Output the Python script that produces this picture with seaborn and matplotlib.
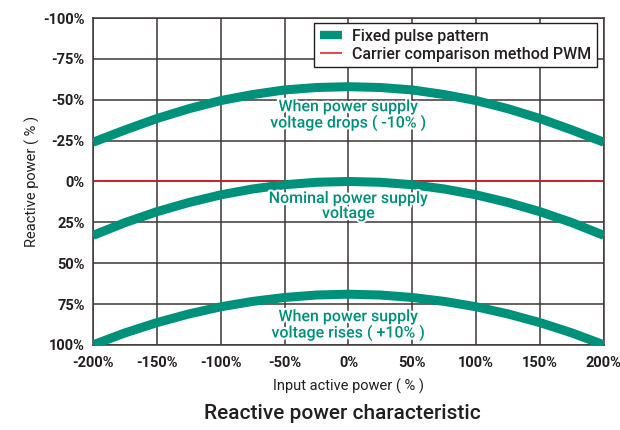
import matplotlib
matplotlib.use("Agg")
import matplotlib.pyplot as plt
import matplotlib.patheffects as pe
import seaborn as sns
import pandas as pd
from matplotlib.lines import Line2D

# Data
x_vals = [-200, -175, -150, -125, -100, -75, -50, -25, 0, 25, 50, 75, 100, 125, 150, 175, 200]
drops = [-24, -31.5, -38.5, -44.5, -49.5, -53.2, -56, -57.5, -58, -57.5, -56, -53.2, -49.5, -44.5, -38.5, -31.5, -24]
nominal = [33, 25.2, 18.5, 12.9, 8.2, 4.6, 2, 0.5, 0, 0.5, 2, 4.6, 8.2, 12.9, 18.5, 25.2, 33]
rises = [100, 92.7, 86.4, 81.1, 76.7, 73.4, 71, 69.5, 69, 69.5, 71, 73.4, 76.7, 81.1, 86.4, 92.7, 100]

x_ticks = [-200, -150, -100, -50, 0, 50, 100, 150, 200]
y_ticks = [-100, -75, -50, -25, 0, 25, 50, 75, 100]
x_tick_labels = ["-200%", "-150%", "-100%", "-50%", "0%", "50%", "100%", "150%", "200%"]
y_tick_labels = ["-100%", "-75%", "-50%", "-25%", "0%", "25%", "50%", "75%", "100%"]

teal = "#00917a"
red = "#e8101f"
grid_c = "#3d3735"
text_c = "#231f20"

sns.set_style("white")
plt.rcParams['font.family'] = ['Roboto', 'DejaVu Sans']

df = pd.DataFrame({
    "x": x_vals * 3,
    "y": drops + nominal + rises,
    "curve": ["drops"] * len(x_vals) + ["nominal"] * len(x_vals) + ["rises"] * len(x_vals),
})

fig = plt.figure(figsize=(6.2, 4.3), dpi=100)
ax = fig.add_axes([0.150, 0.198, 0.824, 0.760])

ax.axhline(0, color=red, lw=1.1, zorder=2)
sns.lineplot(data=df, x="x", y="y", units="curve", estimator=None, color=teal,
             lw=6.5, ax=ax, legend=False, zorder=3, solid_capstyle="butt")

ax.set_xlim(-200, 200)
ax.set_ylim(100, -100)
ax.set_xticks(x_ticks)
ax.set_xticklabels(x_tick_labels)
ax.set_yticks(y_ticks)
ax.set_yticklabels(y_tick_labels)
ax.tick_params(axis="x", length=0, labelsize=10.5, labelcolor=text_c, pad=8)
ax.tick_params(axis="y", length=0, labelsize=10.5, labelcolor=text_c, pad=6)
for lab in ax.get_xticklabels() + ax.get_yticklabels():
    lab.set_fontweight("semibold")
ax.grid(True, color=grid_c, lw=1.1)
ax.set_axisbelow(True)
for s in ax.spines.values():
    s.set_color(grid_c)
    s.set_linewidth(1.1)

ax.set_xlabel("Input active power ( % )", fontsize=10.5, color=text_c, labelpad=6)
ax.set_ylabel("Reactive power ( % )", fontsize=10.5, color=text_c, labelpad=2)

halo = [pe.withStroke(linewidth=3, foreground="white")]
lab_kw = dict(color=teal, fontsize=11.5, fontweight="medium", ha="center", va="center",
              linespacing=1.0, zorder=4, path_effects=halo)
ax.text(0, -40.5, "When power supply\nvoltage drops ( -10% )", **lab_kw)
ax.text(0, 15, "Nominal power supply\nvoltage", **lab_kw)
ax.text(0, 88, "When power supply\nvoltage rises ( +10% )", **lab_kw)

handles = [Line2D([], [], color=teal, lw=6, solid_capstyle="butt"),
           Line2D([], [], color=red, lw=1.1, solid_capstyle="butt")]
leg = ax.legend(handles, ["Fixed pulse pattern", "Carrier comparison method PWM"],
                loc="upper right", bbox_to_anchor=(0.986, 0.985), borderaxespad=0,
                prop={"size": 11.5, "weight": "medium"},
                frameon=True, fancybox=False, edgecolor="#231f20", framealpha=1,
                handlelength=1.4, borderpad=0.35, labelspacing=0.2, handletextpad=0.6)
leg.get_frame().set_linewidth(1.0)
for t in leg.get_texts():
    t.set_color(text_c)

fig.text(0.552, 0.038, "Reactive power characteristic", fontsize=15, fontweight="medium",
         color=text_c, ha="center", va="center")

fig.savefig("out.png", dpi=100)
